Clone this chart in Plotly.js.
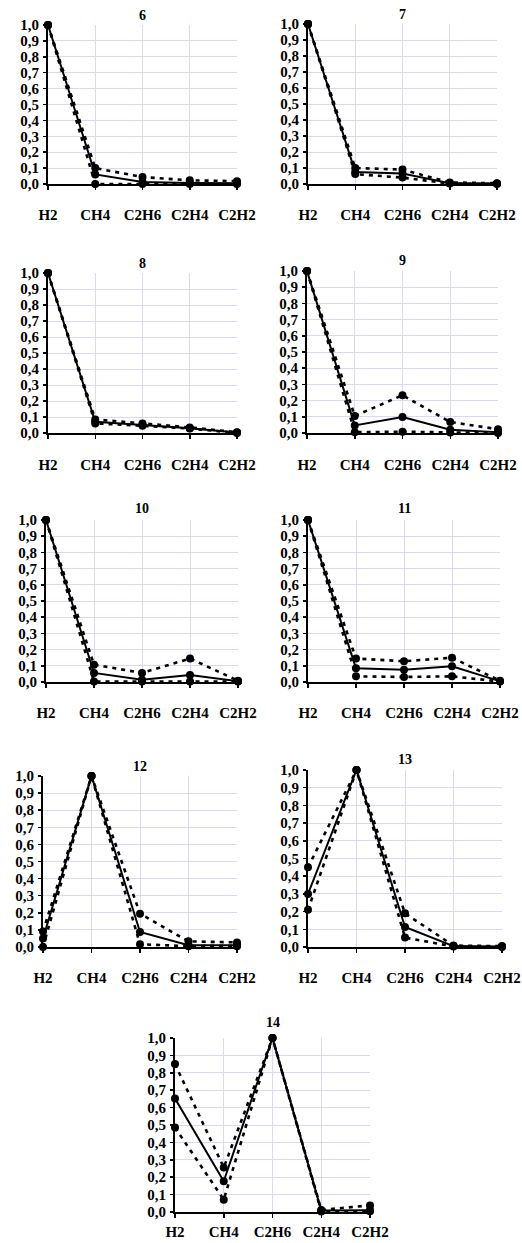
<!DOCTYPE html>
<html>
<head>
<meta charset="utf-8">
<script src="https://cdn.plot.ly/plotly-3.0.1.min.js"></script>
<style>html,body{margin:0;padding:0;background:#fff;}#chart{width:522px;height:1243px;}</style>
</head>
<body>
<div id="chart"></div>
<script>
// ---- data ----
const categories = ['H2', 'CH4', 'C2H6', 'C2H4', 'C2H2'];
const panelTitles = ['6', '7', '8', '9', '10', '11', '12', '13', '14'];

const upper6 = [1.0, 0.10, 0.044, 0.023, 0.018];
const mean6  = [1.0, 0.06, 0.012, 0.006, 0.005];
const lower6 = [1.0, 0.0, 0.0, 0.0, 0.0];

const upper7 = [1.0, 0.10, 0.09, 0.01, 0.005];
const mean7  = [1.0, 0.075, 0.065, 0.005, 0.003];
const lower7 = [1.0, 0.062, 0.04, 0.003, 0.0];

const upper8 = [1.0, 0.085, 0.06, 0.035, 0.005];
const mean8  = [1.0, 0.07, 0.05, 0.03, 0.003];
const lower8 = [1.0, 0.06, 0.045, 0.028, 0.0];

const upper9 = [1.0, 0.105, 0.233, 0.068, 0.023];
const mean9  = [1.0, 0.047, 0.099, 0.02, 0.005];
const lower9 = [1.0, 0.005, 0.008, 0.003, 0.0];

const upper10 = [1.0, 0.107, 0.056, 0.145, 0.008];
const mean10  = [1.0, 0.056, 0.014, 0.043, 0.005];
const lower10 = [1.0, 0.003, 0.003, 0.003, 0.003];

const upper11 = [1.0, 0.145, 0.128, 0.15, 0.008];
const mean11  = [1.0, 0.085, 0.076, 0.097, 0.005];
const lower11 = [1.0, 0.035, 0.031, 0.035, 0.003];

const upper12 = [0.09, 1.0, 0.195, 0.033, 0.027];
const mean12  = [0.05, 1.0, 0.088, 0.01, 0.01];
const lower12 = [0.0, 1.0, 0.016, 0.005, 0.005];

const upper13 = [0.45, 1.0, 0.19, 0.008, 0.005];
const mean13  = [0.30, 1.0, 0.113, 0.005, 0.003];
const lower13 = [0.21, 1.0, 0.053, 0.003, 0.0];

const upper14 = [0.85, 0.256, 1.0, 0.012, 0.038];
const mean14  = [0.652, 0.177, 1.0, 0.008, 0.01];
const lower14 = [0.485, 0.071, 1.0, 0.003, 0.005];

const uppers = [upper6, upper7, upper8, upper9, upper10, upper11, upper12, upper13, upper14];
const means  = [mean6, mean7, mean8, mean9, mean10, mean11, mean12, mean13, mean14];
const lowers = [lower6, lower7, lower8, lower9, lower10, lower11, lower12, lower13, lower14];

// ---- layout geometry (pixels): x0, x1, yTop, yBottom, title offset, label standoff ----
const W = 522, H = 1243;
const boxes = [
  [48, 237, 25, 184, 10, 12],
  [308, 497, 24, 184, 10, 12],
  [48, 237, 273, 433, 10, 13],
  [307, 498, 271, 433, 11, 13],
  [46, 238, 520, 682, 11, 12],
  [308, 500, 520, 682, 11, 12],
  [43, 237, 776, 947, 10, 12],
  [308, 502, 770, 947, 10, 12],
  [175, 370, 1038, 1212, 15, 1]
];

const FONT = '"Liberation Serif", "Times New Roman", serif';
const traces = [];
const layout = {
  width: W, height: H,
  margin: {l: 0, r: 0, t: 0, b: 0},
  paper_bgcolor: '#ffffff', plot_bgcolor: '#ffffff',
  showlegend: false,
  separators: ',.',
  font: {family: FONT, color: '#000', size: 14, weight: 700},
  annotations: []
};

boxes.forEach((b, i) => {
  const n = i + 1;
  const xa = n === 1 ? 'x' : 'x' + n;
  const ya = n === 1 ? 'y' : 'y' + n;
  const dotted = {color: '#000', width: 2.6, dash: '4px,5px'};
  const mk = {color: '#000', size: 8, symbol: 'circle'};
  [uppers[i], lowers[i]].forEach(arr => traces.push({
    x: categories, y: arr, xaxis: xa, yaxis: ya, type: 'scatter', mode: 'lines+markers',
    line: dotted, marker: mk, cliponaxis: false, hoverinfo: 'skip'
  }));
  traces.push({
    x: categories, y: means[i], xaxis: xa, yaxis: ya, type: 'scatter', mode: 'lines+markers',
    line: {color: '#000', width: 2}, marker: mk, cliponaxis: false, hoverinfo: 'skip'
  });
  const [x0, x1, y0, y1, tOff, stand] = b;
  const tf = {family: FONT, size: 15, color: '#000', weight: 700};
  layout['xaxis' + (n === 1 ? '' : n)] = {
    domain: [x0 / W, x1 / W], anchor: ya, type: 'category',
    range: [0, 4], fixedrange: true,
    showline: true, linecolor: '#000', linewidth: 2,
    showgrid: true, gridcolor: '#d8d8fa', gridwidth: 1,
    ticks: 'outside', ticklen: 4, tickwidth: 1.5, tickcolor: '#000',
    ticklabelstandoff: stand,
    tickfont: tf,
    zeroline: false
  };
  layout['yaxis' + (n === 1 ? '' : n)] = {
    domain: [1 - y1 / H, 1 - y0 / H], anchor: xa,
    range: [0, 1], fixedrange: true,
    tickvals: [0, 0.1, 0.2, 0.3, 0.4, 0.5, 0.6, 0.7, 0.8, 0.9, 1.0],
    tickformat: '.1f',
    showline: true, linecolor: '#000', linewidth: 2,
    showgrid: true, gridcolor: '#d8d8fa', gridwidth: 1,
    ticks: 'outside', ticklen: 3, tickwidth: 1.5, tickcolor: '#000',
    ticklabelstandoff: 1,
    tickfont: tf,
    zeroline: false
  };
  layout.annotations.push({
    text: panelTitles[i], xref: 'paper', yref: 'paper',
    x: ((x0 + x1) / 2) / W, y: 1 - (y0 - tOff) / H,
    xanchor: 'center', yanchor: 'middle', showarrow: false,
    font: {family: FONT, size: 14, color: '#000', weight: 700}
  });
});

Plotly.newPlot('chart', traces, layout, {staticPlot: true, displayModeBar: false});
</script>
</body>
</html>
